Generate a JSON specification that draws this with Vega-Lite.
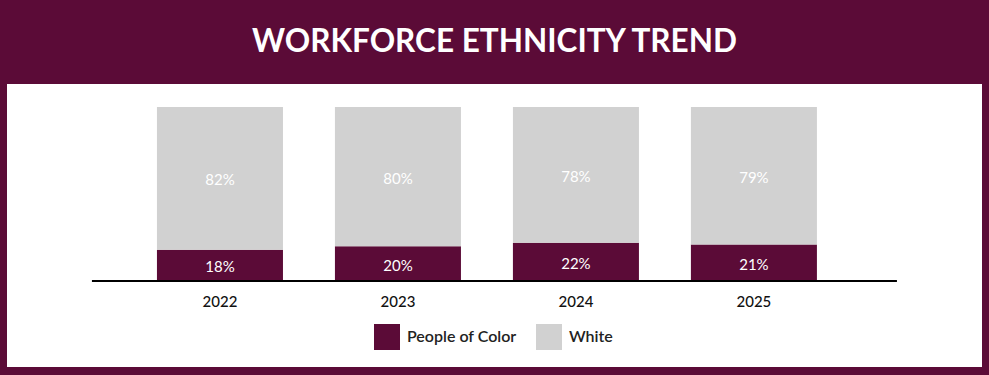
{
  "$schema": "https://vega.github.io/schema/vega-lite/v6.json",
  "width": 975,
  "height": 283,
  "autosize": {"type": "none"},
  "padding": {"left": 7, "right": 7, "top": 84, "bottom": 8},
  "background": "#5b0b37",
  "config": {"view": {"fill": "white", "stroke": null}, "font": "Lato"},
  "title": {"text": "WORKFORCE ETHNICITY TREND", "color": "white", "fontSize": 31.5, "font": "Lato", "fontWeight": "bold", "anchor": "middle", "offset": 26},
  "data": {"values": [
    {"year": "2022", "group": "People of Color", "value": 18},
    {"year": "2022", "group": "White", "value": 82},
    {"year": "2023", "group": "People of Color", "value": 20},
    {"year": "2023", "group": "White", "value": 80},
    {"year": "2024", "group": "People of Color", "value": 22},
    {"year": "2024", "group": "White", "value": 78},
    {"year": "2025", "group": "People of Color", "value": 21},
    {"year": "2025", "group": "White", "value": 79}
  ]},
  "layer": [
    {
      "mark": {"type": "bar"},
      "encoding": {
        "x": {"field": "year", "type": "nominal", "scale": {"paddingInner": 0.292, "paddingOuter": 0.885, "align": 0.476},
          "axis": {"title": null, "orient": "bottom", "offset": -86, "domain": false, "ticks": false, "labelAngle": 0, "labelPadding": 13, "labelFontSize": 15, "labelColor": "#111", "labelFont": "Lato", "labelFontWeight": 500}},
        "y": {"field": "value", "type": "quantitative", "stack": "zero", "scale": {"domain": [-49.4, 113.2], "nice": false, "zero": false}, "axis": null},
        "order": {"field": "group", "sort": "ascending"},
        "color": {"field": "group", "type": "nominal",
          "scale": {"domain": ["People of Color", "White"], "range": ["#5b0b37", "#d1d1d1"]},
          "legend": {"title": null, "orient": "none", "legendX": 367, "legendY": 240, "direction": "horizontal", "symbolType": "square", "symbolSize": 676, "symbolStrokeWidth": 0, "symbolOpacity": 1, "labelFontSize": 16, "labelFont": "Lato", "labelFontWeight": 600, "labelColor": "#222", "labelOffset": 7, "columnPadding": 19, "padding": 0}}
      }
    },
    {
      "data": {"values": [{"base": 0}]},
      "mark": {"type": "rule", "strokeWidth": 2, "color": "#000"},
      "encoding": {
        "x": {"datum": "2022", "bandPosition": -0.516},
        "x2": {"datum": "2025", "bandPosition": 1.635},
        "y": {"field": "base", "type": "quantitative"}
      }
    },
    {
      "transform": [
        {"stack": "value", "groupby": ["year"], "sort": [{"field": "group"}], "as": ["v0", "v1"]},
        {"calculate": "(datum.v0 + datum.v1) / 2", "as": "mid"},
        {"calculate": "datum.value + '%'", "as": "label"}
      ],
      "mark": {"type": "text", "color": "white", "fontSize": 15, "font": "Lato", "dy": 2},
      "encoding": {
        "x": {"field": "year", "type": "nominal"},
        "y": {"field": "mid", "type": "quantitative"},
        "text": {"field": "label"}
      }
    }
  ]
}
